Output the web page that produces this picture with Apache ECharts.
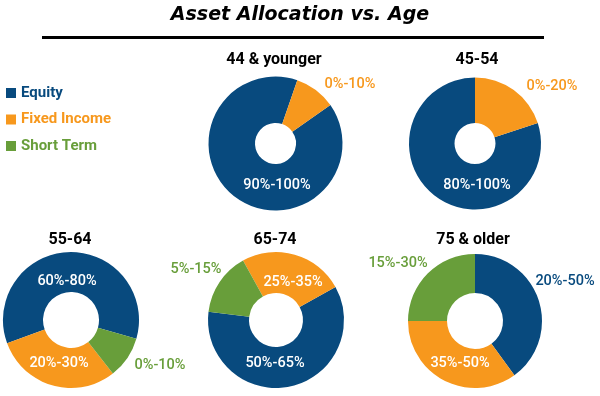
<!DOCTYPE html>
<html>
<head>
<meta charset="utf-8">
<script src="https://cdn.jsdelivr.net/npm/echarts@6/dist/echarts.min.js"></script>
<style>
  html, body { margin: 0; padding: 0; background: #fff; }
  #chart { width: 600px; height: 396px; }
</style>
</head>
<body>
<div id="chart"></div>
<script>
const ages = ['44 & younger', '45-54', '55-64', '65-74', '75 & older']
const categories = ['Equity', 'Fixed Income', 'Short Term']
const equity = [90, 80, 60, 60, 40]
const fixedIncome = [10, 20, 30, 25, 35]
const shortTerm = [0, 0, 10, 15, 25]
const equityRange = ['90%-100%', '80%-100%', '60%-80%', '50%-65%', '20%-50%']
const fixedRange = ['0%-10%', '0%-20%', '20%-30%', '25%-35%', '35%-50%']
const shortRange = ['', '', '0%-10%', '5%-15%', '15%-30%']

const BLUE = '#084a7e'
const ORANGE = '#f7981d'
const GREEN = '#689e3a'
const COLORS = [BLUE, ORANGE, GREEN]
const FONT = 'Roboto, "DejaVu Sans Condensed", sans-serif'

// layout of each donut
const pies = [
  { center: [275.5, 143.5], radius: [20.5, 67], startAngle: 35, clockwise: true },
  { center: [475, 143.5], radius: [20.5, 66], startAngle: 18, clockwise: true },
  { center: [71, 320], radius: [28, 68], startAngle: -16, clockwise: false },
  { center: [276, 320], radius: [27, 68], startAngle: 173, clockwise: false },
  { center: [475, 321], radius: [28, 67], startAngle: 90, clockwise: true }
]
const titlePos = [[274, 61], [477, 61], [70, 241], [275, 241], [473, 241]]
// label anchor per pie: equity, fixed income, short term
const labelPos = [
  [[277, 185], [350, 84], null],
  [[477, 185], [552, 86], null],
  [[67, 281], [59, 363], [160, 365]],
  [[275, 363], [293, 282], [196, 269]],
  [[565, 281], [460, 363], [398, 263]]
]
const labelColor = [
  ['#fff', ORANGE, GREEN],
  ['#fff', ORANGE, GREEN],
  ['#fff', '#fff', GREEN],
  ['#fff', '#fff', GREEN],
  [BLUE, '#fff', GREEN]
]

const chart = echarts.init(document.getElementById('chart'))

const series = pies.map((p, i) => {
  const vals = [equity[i], fixedIncome[i], shortTerm[i]]
  const texts = [equityRange[i], fixedRange[i], shortRange[i]]
  return {
    type: 'pie',
    center: p.center,
    radius: p.radius,
    startAngle: p.startAngle,
    clockwise: p.clockwise,
    animation: false,
    silent: true,
    avoidLabelOverlap: false,
    itemStyle: { borderWidth: 0 },
    labelLine: { show: false },
    label: { position: 'inside', fontFamily: FONT, fontWeight: 500, fontSize: 14.5 },
    labelLayout: (params) => {
      const pos = labelPos[params.seriesIndex][params.dataIndex]
      if (!pos) return {}
      return { x: pos[0], y: pos[1], align: 'center', verticalAlign: 'middle' }
    },
    data: categories.map((name, k) => ({
      name,
      value: vals[k],
      itemStyle: { color: COLORS[k] },
      label: {
        show: vals[k] > 0,
        formatter: texts[k],
        color: labelColor[i][k]
      }
    }))
  }
})

chart.setOption({
  animation: false,
  title: [
    {
      text: 'Asset Allocation vs. Age',
      left: 300, top: 6, textAlign: 'center', padding: 0,
      textStyle: { fontFamily: '"DejaVu Sans", sans-serif', fontStyle: 'italic', fontWeight: 'bold', fontSize: 19, color: '#000' }
    },
    ...ages.map((a, i) => ({
      text: a,
      left: titlePos[i][0], top: titlePos[i][1] - 9, textAlign: 'center', padding: 0,
      textStyle: { fontFamily: FONT, fontWeight: 'bold', fontSize: 16, color: '#000' }
    }))
  ],
  legend: {
    orient: 'vertical',
    left: 6, top: 85, padding: 0,
    icon: 'rect', itemWidth: 10, itemHeight: 10, itemGap: 10.5,
    selectedMode: false,
    textStyle: { fontFamily: FONT, fontWeight: 'bold', fontSize: 15, lineHeight: 16 },
    data: categories.map((name, k) => ({ name, textStyle: { color: COLORS[k] } }))
  },
  graphic: [{
    type: 'line',
    shape: { x1: 42, y1: 37.5, x2: 544, y2: 37.5 },
    style: { stroke: '#000', lineWidth: 3 }
  }],
  series
})
</script>
</body>
</html>
